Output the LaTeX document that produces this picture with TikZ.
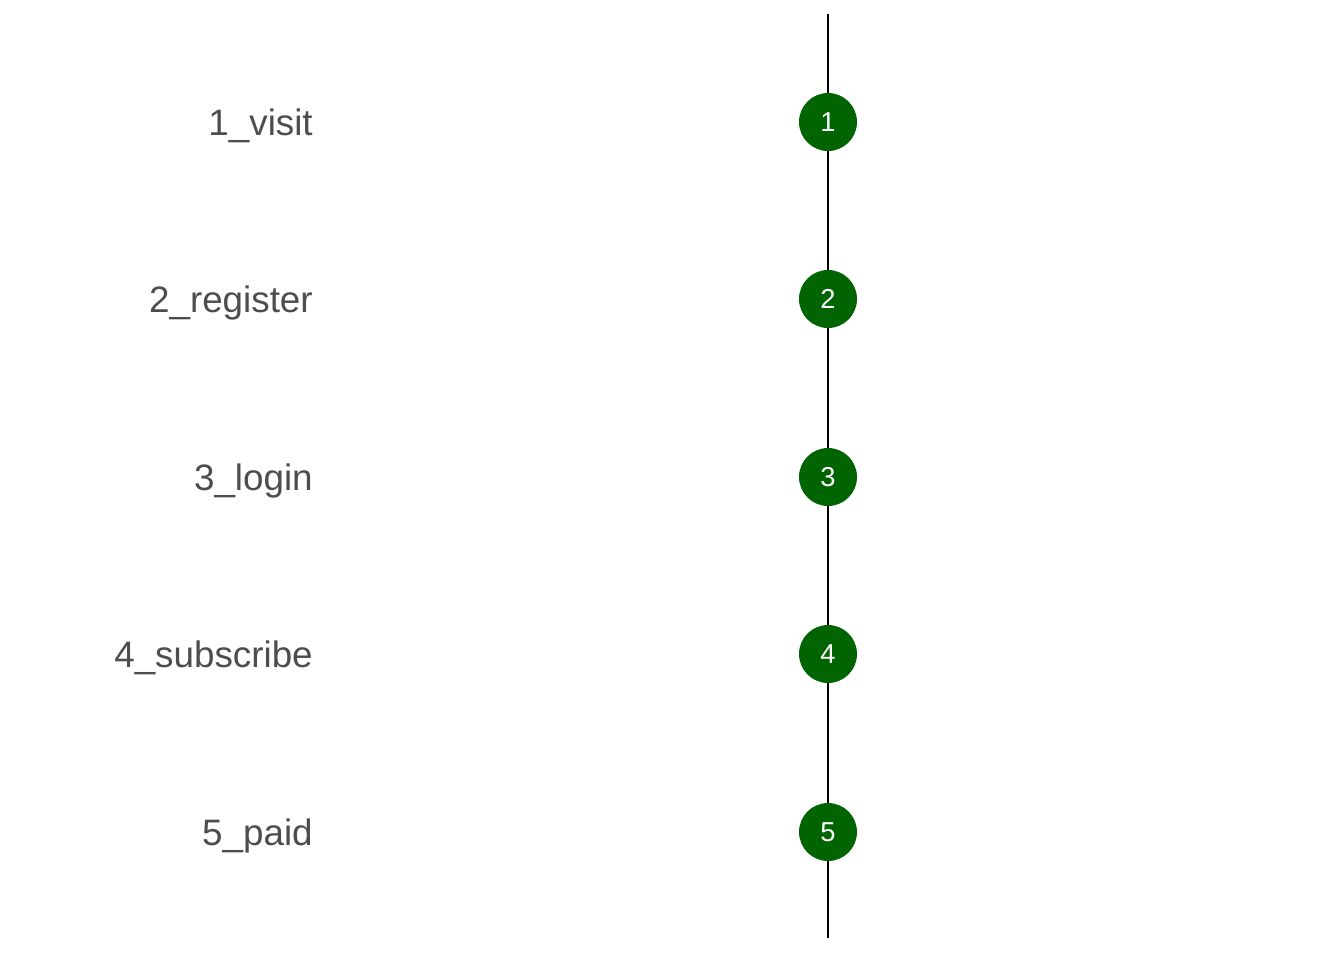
\documentclass[tikz,border=0pt]{standalone}
\usepackage{fontspec}
\setmainfont{Liberation Sans}
\definecolor{stepgreen}{RGB}{0,100,0}
\definecolor{labelgray}{RGB}{77,77,77}
\tikzset{
  stage/.style={circle,fill=stepgreen,minimum size=43.5pt,inner sep=0pt,
    text=white,font=\fontsize{20.5}{21}\selectfont},
  stagelabel/.style={anchor=base east,inner sep=0pt,text=labelgray,
    font=\fontsize{27.6}{30}\selectfont}
}

\begin{document}
\begin{tikzpicture}[x=0.75pt,y=-0.75pt]
\useasboundingbox (0,0) rectangle (1344,960);
\coordinate (top) at (828,14);
\coordinate (bottom) at (828,938);
% funnel steps
\node[stage] (s1) at (828,122) {1};
\node[stage] (s2) at (828,299) {2};
\node[stage] (s3) at (828,477) {3};
\node[stage] (s4) at (828,654) {4};
\node[stage] (s5) at (828,832) {5};
\draw[line width=1.5pt] (top) -- (s1) -- (s2) -- (s3) -- (s4) -- (s5) -- (bottom);
% labels
\node[stagelabel] (l1) at (313,135) {1\_visit};
\node[stagelabel] (l2) at (313,312) {2\_register};
\node[stagelabel] (l3) at (313,490) {3\_login};
\node[stagelabel] (l4) at (313,667) {4\_subscribe};
\node[stagelabel] (l5) at (313,845) {5\_paid};
\end{tikzpicture}
\end{document}
